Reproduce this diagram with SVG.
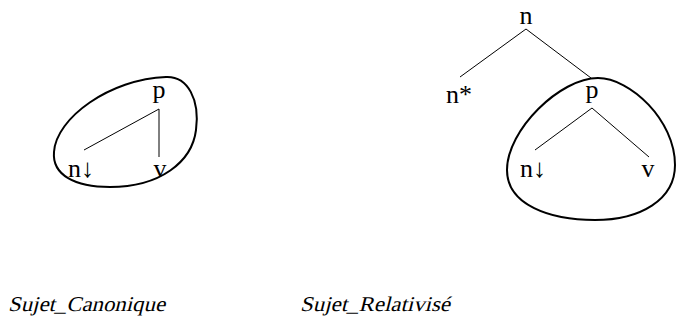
<svg xmlns="http://www.w3.org/2000/svg" width="676" height="334" viewBox="0 0 676 334">
<style>
.t{font-family:"Liberation Serif","DejaVu Serif",serif;font-size:26px;fill:#000}
.c{font-family:"Liberation Serif","DejaVu Serif",serif;font-size:21px;fill:#000}
.e{stroke:#000;stroke-width:1;fill:none}
.b{stroke:#000;stroke-width:2;fill:none}
</style>
<rect width="676" height="334" fill="#fff"/>
<g id="edges">
<line class="e" x1="159" y1="109" x2="84" y2="150"/>
<line class="e" x1="159" y1="109" x2="159" y2="157"/>
<line class="e" x1="526" y1="29" x2="460" y2="77"/>
<line class="e" x1="526" y1="29" x2="591" y2="78"/>
<line class="e" x1="592" y1="108" x2="535" y2="150"/>
<line class="e" x1="592" y1="108" x2="649" y2="157"/>
</g>
<g id="blob1"><path class="b" d="M166,77 C188,76 200,100 196,130 C192,162 160,187 110,187 C75,187 52,175 54,152 C56,118 110,79 166,77 Z"/></g>
<g id="blob2"><path class="b" d="M598,78 C630,78 675,120 675,165 C675,200 640,220 595,220 C550,220 507,205 507,170 C507,130 560,78 598,78 Z"/></g>
<g id="n1p"><text class="t" x="159" y="98" text-anchor="middle">p</text></g>
<g id="n1n"><text class="t" x="68" y="177">n↓</text></g>
<g id="n1v"><text class="t" x="160" y="177" text-anchor="middle">v</text></g>
<g id="n2n"><text class="t" x="526" y="24" text-anchor="middle">n</text></g>
<g id="n2star"><text class="t" x="446" y="103">n*</text></g>
<g id="n2p"><text class="t" x="592" y="98" text-anchor="middle">p</text></g>
<g id="n2nd"><text class="t" x="520" y="177">n↓</text></g>
<g id="n2v"><text class="t" x="648" y="177" text-anchor="middle">v</text></g>
<g id="cap1"><text class="c" transform="translate(8,311) skewX(-14)" textLength="157" lengthAdjust="spacingAndGlyphs">Sujet_Canonique</text></g>
<g id="cap2"><text class="c" transform="translate(300,311) skewX(-14)" textLength="150" lengthAdjust="spacingAndGlyphs">Sujet_Relativisé</text></g>
</svg>
